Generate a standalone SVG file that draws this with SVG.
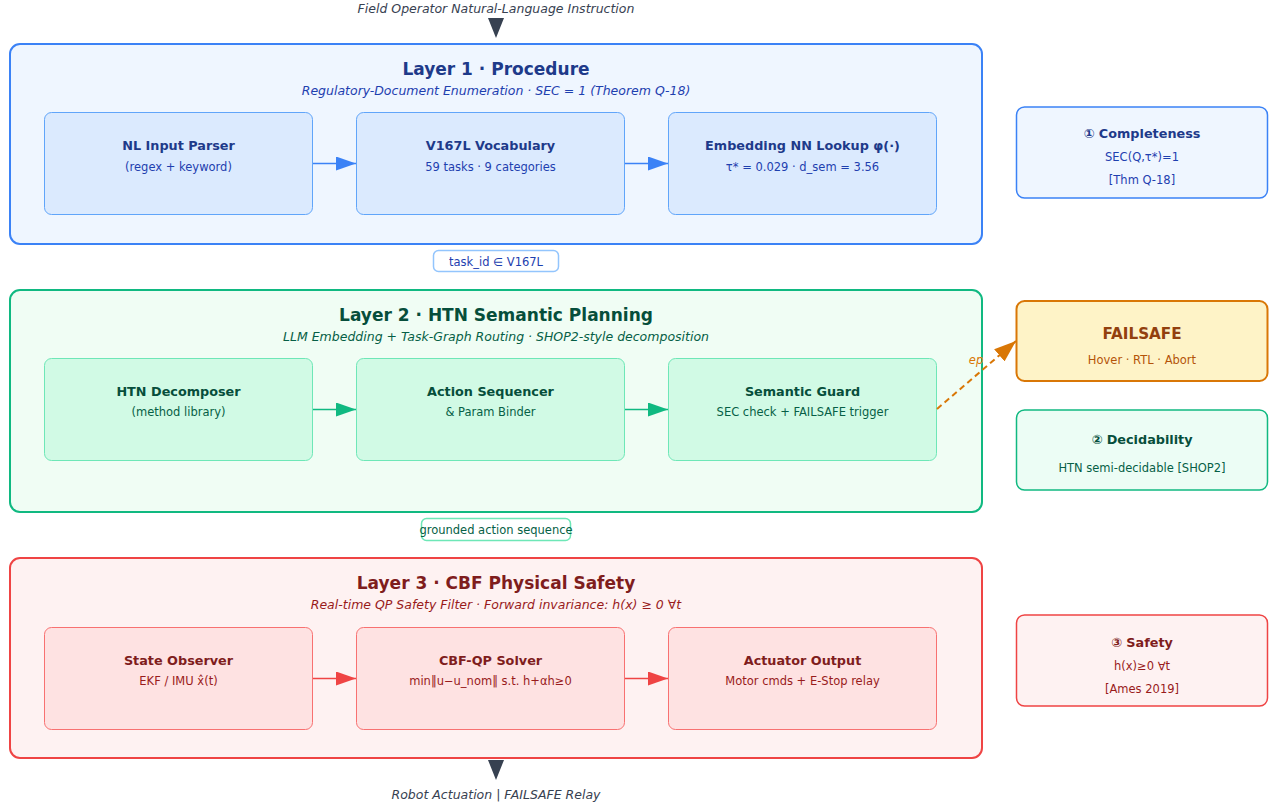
<svg xmlns="http://www.w3.org/2000/svg" width="1279" height="808" viewBox="0 0 1279 808">
<style>
text{font-family:"DejaVu Sans",Verdana,sans-serif;text-anchor:middle}
.lt{font-size:17px;font-weight:bold}
.ls{font-size:12.5px;font-style:italic}
.bt{font-size:12.8px;font-weight:bold}
.bs{font-size:11.5px}
.io{font-size:12.5px;font-style:italic;fill:#374151}
.b1 .ly{fill:#eff6ff;stroke:#3b82f6;stroke-width:2}
.b1 .in{fill:#dbeafe;stroke:#60a5fa;stroke-width:1}
.b1 .t{fill:#1e3a8a}.b1 .s{fill:#1e40af}
.b2 .ly{fill:#f0fdf4;stroke:#10b981;stroke-width:2}
.b2 .in{fill:#d1fae5;stroke:#6ee7b7;stroke-width:1}
.b2 .t{fill:#064e3b}.b2 .s{fill:#065f46}
.b3 .ly{fill:#fef2f2;stroke:#ef4444;stroke-width:2}
.b3 .in{fill:#fee2e2;stroke:#f87171;stroke-width:1}
.b3 .t{fill:#7f1d1d}.b3 .s{fill:#991b1b}
</style>
<defs>
<marker id="mb" viewBox="0 0 20 14" refX="20" refY="7" markerWidth="20" markerHeight="14" markerUnits="userSpaceOnUse" orient="auto"><path d="M0,0L20,7L0,14Z" fill="#3b82f6"/></marker>
<marker id="mg" viewBox="0 0 20 14" refX="20" refY="7" markerWidth="20" markerHeight="14" markerUnits="userSpaceOnUse" orient="auto"><path d="M0,0L20,7L0,14Z" fill="#10b981"/></marker>
<marker id="mr" viewBox="0 0 20 14" refX="20" refY="7" markerWidth="20" markerHeight="14" markerUnits="userSpaceOnUse" orient="auto"><path d="M0,0L20,7L0,14Z" fill="#ef4444"/></marker>
<marker id="mo" viewBox="0 0 22 16" refX="22" refY="8" markerWidth="22" markerHeight="16" markerUnits="userSpaceOnUse" orient="auto"><path d="M0,0L22,8L0,16Z" fill="#d97706"/></marker>
</defs>
<rect width="1279" height="808" fill="#ffffff"/>

<g id="input">
<text class="io" x="496" y="13">Field Operator Natural-Language Instruction</text>
<path d="M488,18L504,18L496,38Z" fill="#374151"/>
</g>

<g id="layer1" class="b1">
<rect class="ly" x="10" y="44" width="972" height="200" rx="10"/>
<text class="lt t" x="496" y="75">Layer 1 · Procedure</text>
<text class="ls s" x="496" y="95">Regulatory-Document Enumeration · SEC = 1 (Theorem Q-18)</text>
</g>
<g id="nl-parser" class="b1">
<rect class="in" x="44.5" y="112.5" width="268" height="102" rx="7"/>
<text class="bt t" x="178.5" y="150">NL Input Parser</text>
<text class="bs s" x="178.5" y="171">(regex + keyword)</text>
</g>
<g id="vocab" class="b1">
<rect class="in" x="356.5" y="112.5" width="268" height="102" rx="7"/>
<text class="bt t" x="490.5" y="150">V167L Vocabulary</text>
<text class="bs s" x="490.5" y="171">59 tasks · 9 categories</text>
</g>
<g id="nn-lookup" class="b1">
<rect class="in" x="668.5" y="112.5" width="268" height="102" rx="7"/>
<text class="bt t" x="802.5" y="150">Embedding NN Lookup φ(·)</text>
<text class="bs s" x="802.5" y="171">τ* = 0.029 · d_sem = 3.56</text>
</g>

<g id="layer2" class="b2">
<rect class="ly" x="10" y="290" width="972" height="222" rx="10"/>
<text class="lt t" x="496" y="321">Layer 2 · HTN Semantic Planning</text>
<text class="ls s" x="496" y="341">LLM Embedding + Task-Graph Routing · SHOP2-style decomposition</text>
</g>
<g id="htn" class="b2">
<rect class="in" x="44.5" y="358.5" width="268" height="102" rx="7"/>
<text class="bt t" x="178.5" y="396">HTN Decomposer</text>
<text class="bs s" x="178.5" y="416">(method library)</text>
</g>
<g id="sequencer" class="b2">
<rect class="in" x="356.5" y="358.5" width="268" height="102" rx="7"/>
<text class="bt t" x="490.5" y="396">Action Sequencer</text>
<text class="bs s" x="490.5" y="416">&amp; Param Binder</text>
</g>
<g id="guard" class="b2">
<rect class="in" x="668.5" y="358.5" width="268" height="102" rx="7"/>
<text class="bt t" x="802.5" y="396">Semantic Guard</text>
<text class="bs s" x="802.5" y="416">SEC check + FAILSAFE trigger</text>
</g>

<g id="layer3" class="b3">
<rect class="ly" x="10" y="558" width="972" height="200" rx="10"/>
<text class="lt t" x="496" y="589">Layer 3 · CBF Physical Safety</text>
<text class="ls s" x="496" y="609">Real-time QP Safety Filter · Forward invariance: h(x) ≥ 0 ∀t</text>
</g>
<g id="observer" class="b3">
<rect class="in" x="44.5" y="627.5" width="268" height="102" rx="7"/>
<text class="bt t" x="178.5" y="665">State Observer</text>
<text class="bs s" x="178.5" y="685">EKF / IMU x̂(t)</text>
</g>
<g id="cbf-qp" class="b3">
<rect class="in" x="356.5" y="627.5" width="268" height="102" rx="7"/>
<text class="bt t" x="490.5" y="665">CBF-QP Solver</text>
<text class="bs s" x="490.5" y="685">min‖u−u_nom‖ s.t. h+αh≥0</text>
</g>
<g id="actuator" class="b3">
<rect class="in" x="668.5" y="627.5" width="268" height="102" rx="7"/>
<text class="bt t" x="802.5" y="665">Actuator Output</text>
<text class="bs s" x="802.5" y="685">Motor cmds + E-Stop relay</text>
</g>

<g id="output">
<path d="M488,760L504,760L496,780Z" fill="#374151"/>
<text class="io" x="496" y="799">Robot Actuation | FAILSAFE Relay</text>
</g>

<g id="completeness">
<rect x="1016.5" y="107" width="251" height="91" rx="8" fill="#eff6ff" stroke="#3b82f6" stroke-width="1.5"/>
<text class="bt" x="1142" y="138" fill="#1e3a8a">① Completeness</text>
<text class="bs" x="1142" y="161" fill="#1e40af">SEC(Q,τ*)=1</text>
<text class="bs" x="1142" y="184" fill="#1e40af">[Thm Q-18]</text>
</g>
<g id="failsafe">
<rect x="1016.5" y="301" width="251" height="80" rx="8" fill="#fef3c7" stroke="#d97706" stroke-width="2"/>
<text x="1142" y="339" font-size="15.2" font-weight="bold" fill="#92400e">FAILSAFE</text>
<text class="bs" x="1142" y="364" fill="#b45309">Hover · RTL · Abort</text>
</g>
<g id="decidability">
<rect x="1016.5" y="410" width="251" height="80" rx="8" fill="#ecfdf5" stroke="#10b981" stroke-width="1.5"/>
<text class="bt" x="1142" y="444" fill="#064e3b">② Decidability</text>
<text class="bs" x="1142" y="472" fill="#065f46">HTN semi-decidable [SHOP2]</text>
</g>
<g id="safety">
<rect x="1016.5" y="615" width="251" height="91" rx="8" fill="#fef2f2" stroke="#ef4444" stroke-width="1.5"/>
<text class="bt" x="1142" y="647" fill="#7f1d1d">③ Safety</text>
<text class="bs" x="1142" y="670" fill="#991b1b">h(x)≥0 ∀t</text>
<text class="bs" x="1142" y="693" fill="#991b1b">[Ames 2019]</text>
</g>

<g id="connectors" fill="none" stroke-width="1.5">
<line x1="313" y1="163.5" x2="356" y2="163.5" stroke="#3b82f6" marker-end="url(#mb)"/>
<line x1="625" y1="163.5" x2="668" y2="163.5" stroke="#3b82f6" marker-end="url(#mb)"/>
<line x1="313" y1="409.5" x2="356" y2="409.5" stroke="#10b981" marker-end="url(#mg)"/>
<line x1="625" y1="409.5" x2="668" y2="409.5" stroke="#10b981" marker-end="url(#mg)"/>
<line x1="313" y1="678.5" x2="356" y2="678.5" stroke="#ef4444" marker-end="url(#mr)"/>
<line x1="625" y1="678.5" x2="668" y2="678.5" stroke="#ef4444" marker-end="url(#mr)"/>
<line x1="937" y1="409" x2="1016" y2="341" stroke="#d97706" stroke-width="2" stroke-dasharray="6,4" marker-end="url(#mo)"/>
<text x="976" y="364" font-size="11.5" font-style="italic" fill="#d97706" stroke="none">ep</text>
<rect x="433.5" y="250.5" width="125" height="21" rx="5" fill="#ffffff" stroke="#93c5fd"/>
<text x="496" y="265.5" font-size="11.5" fill="#1e40af" stroke="none">task_id ∈ V167L</text>
<rect x="421.5" y="518.5" width="149" height="22" rx="5" fill="#ffffff" stroke="#6ee7b7"/>
<text x="496" y="534" font-size="11.5" fill="#065f46" stroke="none">grounded action sequence</text>
</g>
</svg>
